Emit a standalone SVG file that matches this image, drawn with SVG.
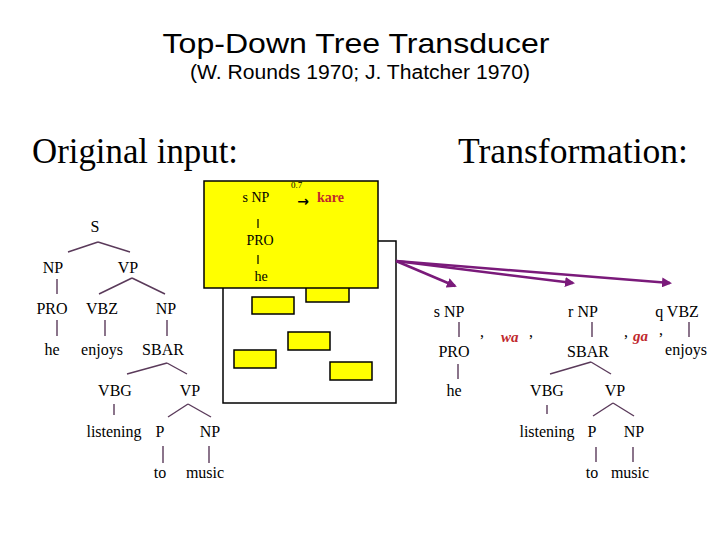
<svg xmlns="http://www.w3.org/2000/svg" width="720" height="540" viewBox="0 0 720 540">
<defs>
<style>
.t{font-family:"Liberation Serif","Times New Roman",serif;font-size:16px;fill:#000;text-anchor:middle}
.ts{font-family:"Liberation Serif","Times New Roman",serif;font-size:14px;fill:#000;text-anchor:middle}
.red{font-family:"Liberation Serif","Times New Roman",serif;font-weight:bold;font-style:italic;font-size:15px;fill:#c0282d}
.head{font-family:"Liberation Serif","Times New Roman",serif;font-size:35px;fill:#000}
.tl{stroke:#5a3a5a;stroke-width:1.4;fill:none}
.bl{stroke:#000;stroke-width:1.2;fill:none}
.arr{stroke:#7a1a7a;stroke-width:2.5;fill:none;marker-end:url(#ah)}
.yb{fill:#ffff00;stroke:#000;stroke-width:1.5}
</style>
<marker id="ah" viewBox="0 0 10 10" refX="8" refY="5" markerWidth="4" markerHeight="4" orient="auto" markerUnits="strokeWidth">
<path d="M0,0 L10,5 L0,10 z" fill="#7a1a7a"/>
</marker>
</defs>
<rect width="720" height="540" fill="#fff"/>
<g id="title">
<text x="356" y="53" text-anchor="middle" font-family="'Liberation Sans',Arial,sans-serif" font-size="28" textLength="387" lengthAdjust="spacingAndGlyphs">Top-Down Tree Transducer</text>
<text x="360" y="79" text-anchor="middle" font-family="'Liberation Sans',Arial,sans-serif" font-size="20" textLength="340" lengthAdjust="spacingAndGlyphs">(W. Rounds 1970; J. Thatcher 1970)</text>
</g>
<g id="headings">
<text class="head" x="32" y="163" textLength="206" lengthAdjust="spacingAndGlyphs">Original input:</text>
<text class="head" x="458" y="163" textLength="230" lengthAdjust="spacingAndGlyphs">Transformation:</text>
</g>
<g id="rule-boxes">
<rect x="223" y="241" width="173" height="162" fill="#fff" stroke="#000" stroke-width="1.5"/>
<rect class="yb" x="252" y="297" width="42" height="17"/>
<rect class="yb" x="306" y="285" width="43" height="17"/>
<rect class="yb" x="288" y="332" width="42" height="18"/>
<rect class="yb" x="234" y="350" width="42" height="18"/>
<rect class="yb" x="330" y="362" width="42" height="18"/>
<rect class="yb" x="204" y="181" width="174" height="107"/>
</g>
<g id="rule">
<text class="ts" x="256" y="202">s NP</text>
<text x="291" y="188" font-family="'Liberation Serif',serif" font-size="9">0.7</text>
<text x="303" y="206" text-anchor="middle" font-family="'DejaVu Sans',sans-serif" font-size="14" font-weight="bold">→</text>
<text x="317" y="202" font-family="'Liberation Serif',serif" font-size="14" font-weight="bold" fill="#c0282d">kare</text>
<line class="bl" x1="258" y1="219" x2="258" y2="228"/>
<text class="ts" x="260" y="245">PRO</text>
<line class="bl" x1="258" y1="255" x2="258" y2="264"/>
<text class="ts" x="261" y="281">he</text>
</g>
<g id="connectors">
<line class="tl" x1="98" y1="242" x2="68" y2="252"/>
<line class="tl" x1="98" y1="242" x2="130" y2="252"/>
<line class="tl" x1="57" y1="279" x2="57" y2="294"/>
<line class="tl" x1="132" y1="278" x2="99" y2="294"/>
<line class="tl" x1="132" y1="278" x2="165" y2="294"/>
<line class="tl" x1="57" y1="320" x2="57" y2="336"/>
<line class="tl" x1="105" y1="320" x2="105" y2="336"/>
<line class="tl" x1="167" y1="320" x2="167" y2="336"/>
<line class="tl" x1="167" y1="363" x2="127" y2="374"/>
<line class="tl" x1="167" y1="363" x2="187" y2="374"/>
<line class="tl" x1="114" y1="404" x2="114" y2="415"/>
<line class="tl" x1="188" y1="404" x2="168" y2="417"/>
<line class="tl" x1="188" y1="404" x2="211" y2="417"/>
<line class="tl" x1="163" y1="446" x2="163" y2="463"/>
<line class="tl" x1="209" y1="446" x2="209" y2="463"/>
<line class="tl" x1="459" y1="322" x2="459" y2="337"/>
<line class="tl" x1="592" y1="322" x2="592" y2="337"/>
<line class="tl" x1="689" y1="322" x2="689" y2="337"/>
<line class="tl" x1="458" y1="364" x2="458" y2="379"/>
<line class="tl" x1="591" y1="362" x2="550" y2="374"/>
<line class="tl" x1="591" y1="362" x2="611" y2="374"/>
<line class="tl" x1="547" y1="405" x2="547" y2="414"/>
<line class="tl" x1="613" y1="403" x2="593" y2="416"/>
<line class="tl" x1="613" y1="403" x2="634" y2="416"/>
<line class="tl" x1="596" y1="447" x2="596" y2="462"/>
<line class="tl" x1="633" y1="447" x2="633" y2="462"/>
<line class="arr" x1="396" y1="261" x2="455" y2="286"/>
<line class="arr" x1="396" y1="261" x2="573" y2="283"/>
<line class="arr" x1="396" y1="261" x2="670" y2="283"/>
</g>
<g id="input-tree">
<text class="t" x="95" y="232">S</text>
<text class="t" x="53" y="273">NP</text>
<text class="t" x="128" y="273">VP</text>
<text class="t" x="52" y="314">PRO</text>
<text class="t" x="102" y="314">VBZ</text>
<text class="t" x="166" y="314">NP</text>
<text class="t" x="52" y="355">he</text>
<text class="t" x="102" y="355">enjoys</text>
<text class="t" x="163" y="355">SBAR</text>
<text class="t" x="115" y="396">VBG</text>
<text class="t" x="190" y="396">VP</text>
<text class="t" x="114" y="437">listening</text>
<text class="t" x="160" y="437">P</text>
<text class="t" x="210" y="437">NP</text>
<text class="t" x="160" y="478">to</text>
<text class="t" x="205" y="478">music</text>
</g>
<g id="output-tree">
<text class="t" x="449" y="317">s NP</text>
<text class="t" x="583" y="317">r NP</text>
<text class="t" x="677" y="317">q VBZ</text>
<text class="t" x="454" y="357">PRO</text>
<text class="t" x="482" y="337">,</text>
<text class="red" x="501" y="342">wa</text>
<text class="t" x="531" y="337">,</text>
<text class="t" x="588" y="357">SBAR</text>
<text class="t" x="626" y="337">,</text>
<text class="red" x="633" y="341">ga</text>
<text class="t" x="661" y="335">,</text>
<text class="t" x="686" y="355">enjoys</text>
<text class="t" x="454" y="396">he</text>
<text class="t" x="547" y="396">VBG</text>
<text class="t" x="615" y="396">VP</text>
<text class="t" x="547" y="437">listening</text>
<text class="t" x="592" y="437">P</text>
<text class="t" x="634" y="437">NP</text>
<text class="t" x="592" y="478">to</text>
<text class="t" x="630" y="478">music</text>
</g>
</svg>
